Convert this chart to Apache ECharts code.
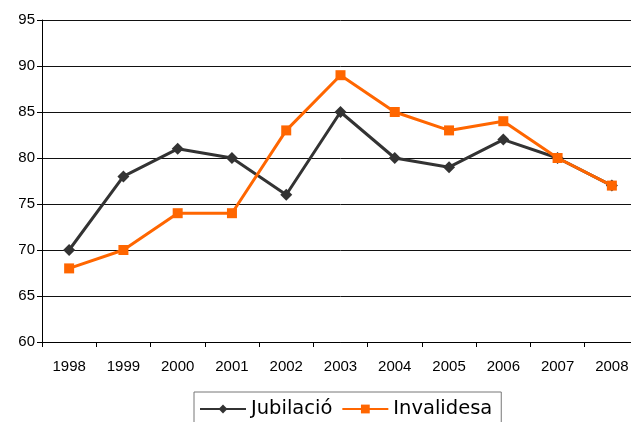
<!DOCTYPE html>
<html><head><meta charset="utf-8">
<script src="https://cdn.jsdelivr.net/npm/echarts@6/dist/echarts.min.js"></script>
<style>html,body{margin:0;padding:0;background:#fff;overflow:hidden;width:631px;height:422px}#c{width:640px;height:422px}</style>
</head><body><div id="c"></div>
<script>
const categories = ['1998','1999','2000','2001','2002','2003','2004','2005','2006','2007','2008'];
const jubilacio = [70, 78, 81, 80, 76, 85, 80, 79, 82, 80, 77];
const invalidesa = [68, 70, 74, 74, 83, 89, 85, 83, 84, 80, 77];
const yTicks = [60, 65, 70, 75, 80, 85, 90, 95];

const chart = echarts.init(document.getElementById('c'));
chart.setOption({
  animation: false,
  grid: { left: 42, top: 20, width: 597, height: 322 },
  xAxis: {
    type: 'category', data: categories, boundaryGap: true,
    axisLine: { lineStyle: { color: '#000', width: 1 } },
    axisTick: { show: true, length: 5, lineStyle: { color: '#000' } },
    axisLabel: { color: '#000', fontFamily: 'Liberation Sans', fontSize: 15, margin: 17, letterSpacing: -0.5 },
    splitLine: { show: false }
  },
  yAxis: {
    type: 'value', min: yTicks[0], max: yTicks[yTicks.length - 1], interval: 5,
    axisLine: { show: true, lineStyle: { color: '#000', width: 1 } },
    axisTick: { show: true, length: 5, lineStyle: { color: '#000' } },
    axisLabel: { color: '#000', fontFamily: 'Liberation Sans', fontSize: 15, margin: 7 },
    splitLine: { show: true, lineStyle: { color: '#111', width: 1 } }
  },
  legend: {
    left: 194, top: 392,
    data: ['Jubilació', 'Invalidesa'],
    borderColor: '#777', borderWidth: 1,
    padding: [7, 9, 24, 5],
    itemWidth: 46, itemHeight: 11, itemGap: 9,
    textStyle: { color: '#000', fontFamily: 'DejaVu Sans', fontSize: 19.5 }
  },
  series: [
    { name: 'Jubilació', type: 'line', data: jubilacio,
      symbol: 'diamond', symbolSize: 12,
      lineStyle: { color: '#333333', width: 3 },
      itemStyle: { color: '#333333' } },
    { name: 'Invalidesa', type: 'line', data: invalidesa,
      symbol: 'rect', symbolSize: 10,
      lineStyle: { color: '#FF6600', width: 3 },
      itemStyle: { color: '#FF6600' } }
  ]
});
</script></body></html>
